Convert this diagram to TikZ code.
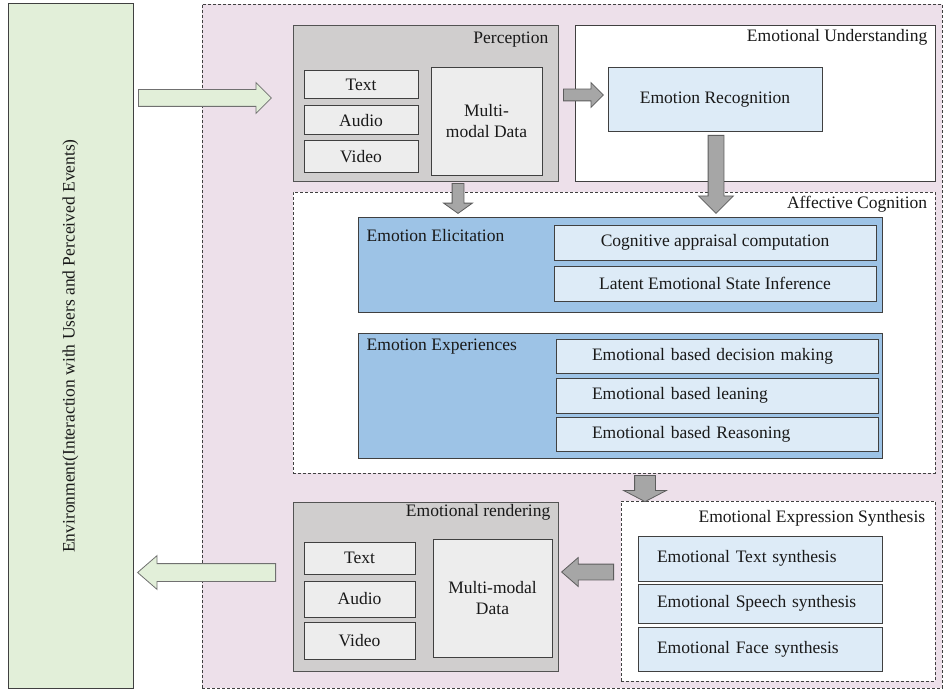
\documentclass[tikz,border=0pt]{standalone}
\usepackage{fontspec}
\setmainfont{Liberation Serif}
\usepackage{xcolor}
\usetikzlibrary{shapes.arrows}
\usetikzlibrary{positioning}

\definecolor{envgreen}{RGB}{226,239,217}
\definecolor{regionpink}{RGB}{237,224,234}
\definecolor{modgray}{RGB}{208,206,206}
\definecolor{itemgray}{RGB}{237,237,237}
\definecolor{paleblue}{RGB}{221,235,247}
\definecolor{midblue}{RGB}{157,195,230}
\definecolor{arrowgray}{RGB}{166,166,166}
\definecolor{edge}{RGB}{64,64,64}

\begin{document}
\begin{tikzpicture}[x=1pt, y=-1pt,
  every node/.style={font=\fontsize{17.5}{21}\selectfont, text=black!90, inner sep=0pt},
  dims/.style 2 args={minimum width=#1, minimum height=#2},
  region/.style={rectangle, draw=edge, fill=regionpink, dash pattern=on 3pt off 2pt, line width=0.8pt},
  envbox/.style={rectangle, draw=edge, fill=envgreen, line width=1pt},
  module/.style={rectangle, draw=edge!90, fill=modgray, line width=1pt},
  item/.style={rectangle, draw=edge, fill=itemgray, line width=1pt, align=center},
  group/.style={rectangle, draw=edge, fill=white, dash pattern=on 3pt off 2pt, line width=0.8pt},
  frame/.style={rectangle, draw=edge, fill=white, line width=1pt},
  stage/.style={rectangle, draw=edge, fill=midblue, line width=1pt},
  task/.style={rectangle, draw=edge, fill=paleblue, line width=1pt},
  shaft/.style={inner sep=#1},
  gblock/.style={single arrow, draw=edge!75, fill=envgreen, line width=0.8pt, anchor=tail},
  block/.style={single arrow, draw=edge!85, fill=arrowgray, line width=0.8pt, anchor=tail}]
\useasboundingbox (0,0) rectangle (945,690);

% background
\node[region, dims={740}{684}] (region) at (572,346) {};
\node[envbox, rotate=90, dims={684}{125}] (env) at (70.5,346) {Environment(Interaction with Users and Perceived Events)};

% perception
\node[module, dims={265}{155}] (perc) at (425.5,103.5) {};
\node[anchor=east] (perctitle) at ([xshift=-10pt,yshift=-14pt]perc.north east) {Perception};
\node[item, dims={114}{28}] (ptext) at (361,85) {Text};
\node[item, dims={114}{29}] (paudio) at (361,120.5) {Audio};
\node[item, dims={114}{31}] (pvideo) at (361,156.5) {Video};
\node[item, dims={111}{107}] (pdata) at (486.5,121.5) {Multi-\\modal Data};

% understanding
\node[frame, dims={360}{155}] (under) at (755,103.5) {};
\node[anchor=east] (undertitle) at ([xshift=-8pt,yshift=-12pt]under.north east) {Emotional Understanding};
\node[task, dims={214}{64}] (recog) at (715,100) {Emotion Recognition};

% cognition
\node[group, dims={642}{281}] (cogn) at (614,332.5) {};
\node[anchor=east] (cogntitle) at ([xshift=-8pt,yshift=-13pt]cogn.north east) {Affective Cognition};
\node[stage, dims={524}{95}] (elic) at (620,264.5) {};
\node[anchor=west] (elictitle) at ([xshift=9pt,yshift=-19pt]elic.north west) {Emotion Elicitation};
\node[task, dims={322}{35}] (apprais) at (715,242.5) {Cognitive appraisal computation};
\node[task, dims={322}{35}] (latent) at (715,283.5) {Latent Emotional State Inference};
\node[stage, dims={524}{125}] (exper) at (620,395.5) {};
\node[anchor=west] (expertitle) at ([xshift=9pt,yshift=-14pt]exper.north west) {Emotion Experiences};
\node[task, dims={322}{34}, inner xsep=36pt, text width=250pt, align=left] (decis) at (717,356) {Emotional based decision making};
\node[task, dims={322}{35}, inner xsep=36pt, text width=250pt, align=left] (learn) at (717,395.5) {Emotional based leaning};
\node[task, dims={322}{34}, inner xsep=36pt, text width=250pt, align=left] (reason) at (717,434) {Emotional based Reasoning};

% rendering
\node[module, dims={265}{169}] (render) at (425.5,586.5) {};
\node[anchor=east] (rendertitle) at ([xshift=-8pt,yshift=-11pt]render.north east) {Emotional rendering};
\node[item, dims={111}{32}] (rtext) at (359.5,558) {Text};
\node[item, dims={111}{36}] (raudio) at (359.5,599) {Audio};
\node[item, dims={111}{37}] (rvideo) at (359.5,640.5) {Video};
\node[item, dims={119}{118}] (rdata) at (492.5,598) {Multi-modal\\Data};

% synthesis
\node[group, dims={314}{180}] (synth) at (778,591) {};
\node[anchor=east] (synthtitle) at ([xshift=-10pt,yshift=-18pt]synth.north east) {Emotional Expression Synthesis};
\node[task, dims={244}{45}, inner xsep=19pt, text width=206pt, align=left] (stext) at (760,558.5) {Emotional Text synthesis};
\node[task, dims={244}{39}, inner xsep=19pt, text width=206pt, align=left] (sspeech) at (760,603.5) {Emotional Speech synthesis};
\node[task, dims={244}{44}, inner xsep=19pt, text width=206pt, align=left] (sface) at (760,649) {Emotional Face synthesis};

% block arrows
\node[gblock, shaft=8pt, minimum height=133, minimum width=30, single arrow head extend=7] (envin) at (138,98) {};
\node[block, shaft=5.5pt, minimum height=40, minimum width=24, single arrow head extend=6.5] (toRecog) at (563,95) {};
\node[block, shaft=5.5pt, shape border rotate=270, minimum height=30, minimum width=28, single arrow head extend=8.5, single arrow tip angle=109] (percDown) at (458,183) {};
\node[block, shaft=7.5pt, shape border rotate=270, minimum height=78, minimum width=34, single arrow head extend=9.5] (recogDown) at (716,135) {};
\node[block, shaft=10pt, shape border rotate=270, minimum height=21, minimum width=42, single arrow head extend=11, single arrow tip angle=125] (cognDown) at (645,475) {};
\node[block, shaft=7.5pt, shape border rotate=180, minimum height=52, minimum width=28, single arrow head extend=6.5, single arrow tip angle=82] (toRender) at (614,572) {};
\node[gblock, shaft=8.5pt, shape border rotate=180, minimum height=138, minimum width=33, single arrow head extend=8, single arrow tip angle=82] (envout) at (276,572.5) {};
\end{tikzpicture}
\end{document}
